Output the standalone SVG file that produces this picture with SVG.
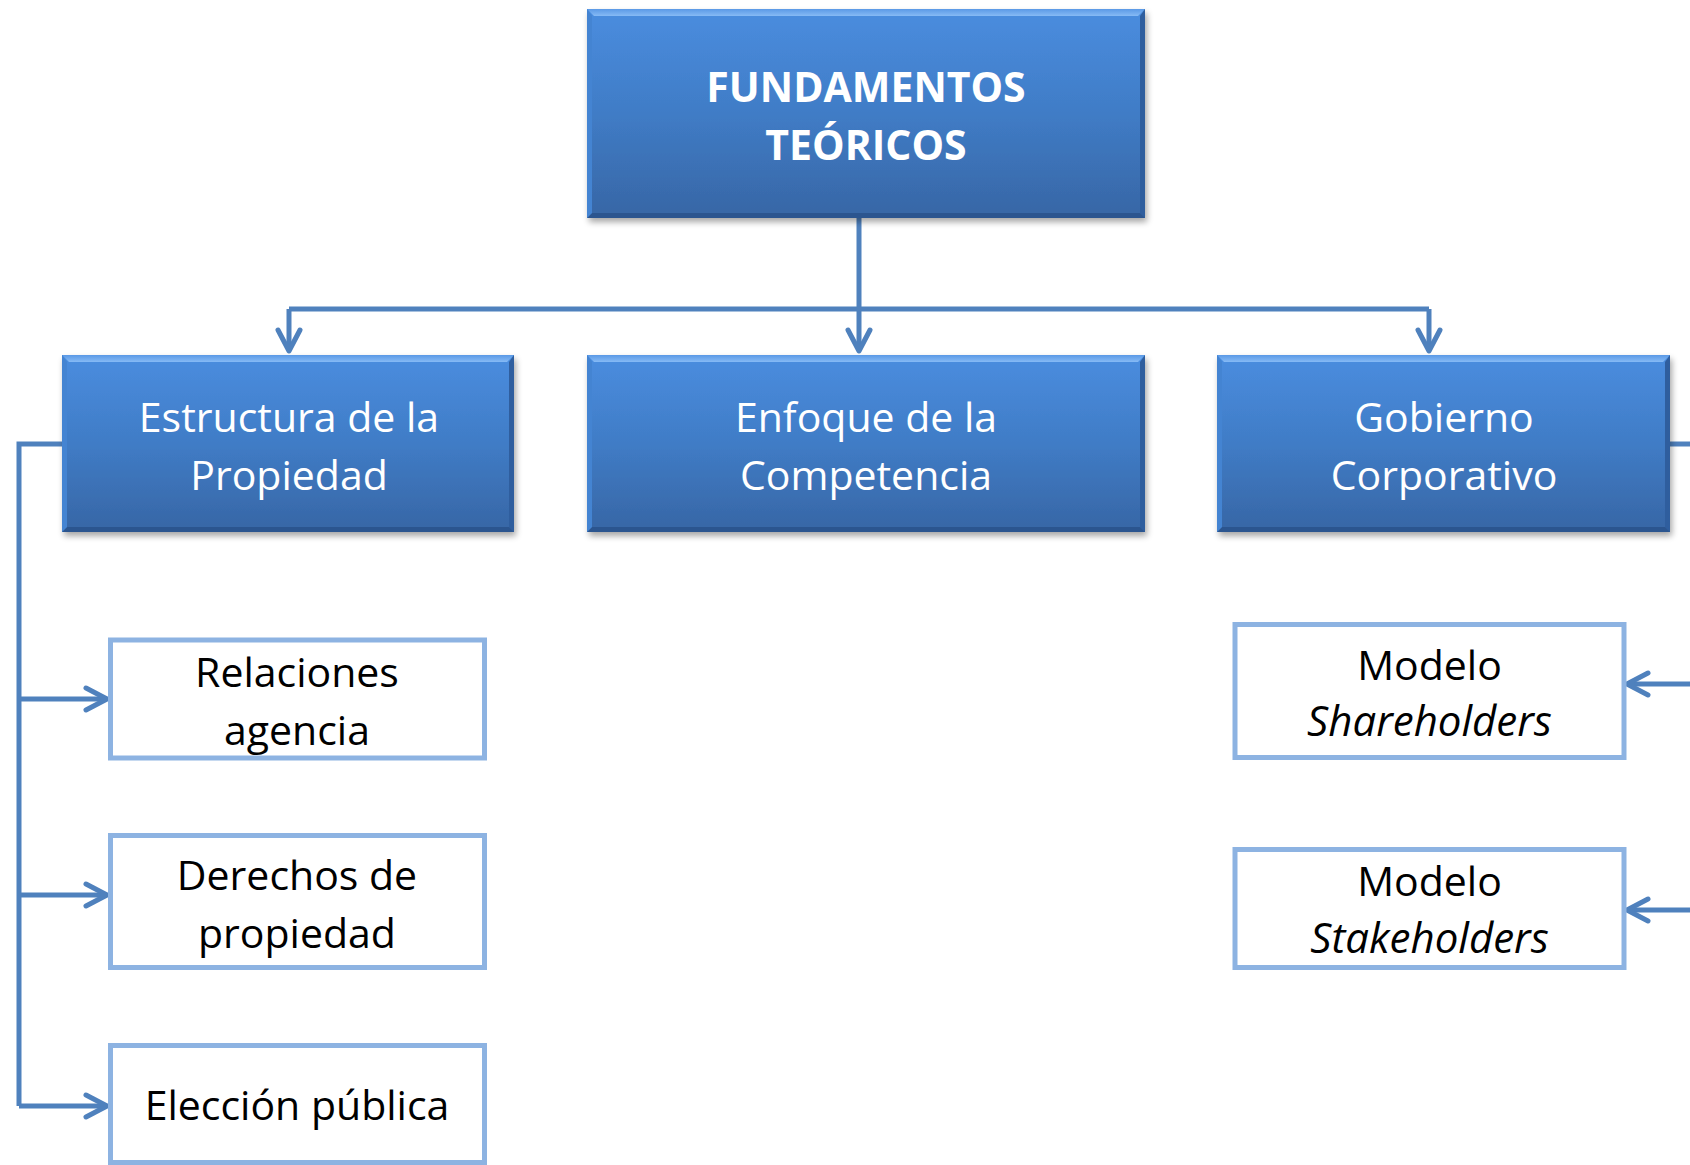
<svg xmlns="http://www.w3.org/2000/svg" width="1690" height="1165" viewBox="0 0 1690 1165">
<style>
.t{font-family:"Open Sans","Liberation Sans",sans-serif;font-size:41px;text-anchor:middle}
.w{fill:#ffffff}
.b{font-weight:bold}
.k{fill:#000000}
.i{font-style:italic;font-size:42px}
.wb{fill:#ffffff;stroke:#8DB3E2;stroke-width:5}
.main{fill:url(#gBlue)}
.bt{fill:url(#gTop)}
.br{fill:#2F5E9E}
.bb{fill:#2B558F}
.bl{fill:#4484D2}
.c{fill:none;stroke:#4F81BD;stroke-width:5;stroke-linejoin:miter}
.ca{marker-end:url(#arr)}
</style>
<defs>
<linearGradient id="gBlue" x1="0" y1="0" x2="0" y2="1">
<stop offset="0" stop-color="#4A8DDF"/>
<stop offset="0.5" stop-color="#407CC6"/>
<stop offset="1" stop-color="#3766A5"/>
</linearGradient>
<linearGradient id="gTop" x1="0" y1="0" x2="0" y2="1">
<stop offset="0" stop-color="#5A99E6"/>
<stop offset="1" stop-color="#86BAF5"/>
</linearGradient>
<filter id="shadow" x="-5%" y="-5%" width="110%" height="120%">
<feGaussianBlur in="SourceAlpha" stdDeviation="3"/>
<feOffset dx="2" dy="4"/>
<feComponentTransfer><feFuncA type="linear" slope="0.35"/></feComponentTransfer>
<feMerge><feMergeNode/><feMergeNode in="SourceGraphic"/></feMerge>
</filter>
<marker id="arr" markerUnits="userSpaceOnUse" markerWidth="40" markerHeight="40" viewBox="-30 -20 40 40" refX="0" refY="0" orient="auto" overflow="visible">
<path d="M-21 -11 L0 0 L-21 11" fill="none" stroke="#4F81BD" stroke-width="5" stroke-linecap="round" stroke-linejoin="round"/>
</marker>
</defs>
<rect width="1690" height="1165" fill="#ffffff"/>

<g id="connectors">
<path class="c ca" d="M859 218 V351"/>
<path class="c" d="M289 309 H1429"/>
<path class="c ca" d="M289 309 V351"/>
<path class="c ca" d="M1429 309 V351"/>
<path class="c" d="M62 444 H19 V1106"/>
<path class="c ca" d="M19 699 H107"/>
<path class="c ca" d="M19 895 H107"/>
<path class="c ca" d="M19 1106 H107"/>
<path class="c" d="M1669 444 H1690"/>
<path class="c ca" d="M1690 684 H1627"/>
<path class="c ca" d="M1690 910 H1627"/>
</g>

<g id="n-fundamentos">
<rect class="main" x="587" y="9" width="558" height="209" filter="url(#shadow)"/>
<path class="bt" d="M587 9 H1145 L1138 16 H594 Z"/>
<path class="br" d="M1145 9 V218 L1140 213 V16 Z"/>
<path class="bb" d="M587 218 H1145 L1140 213 H592 Z"/>
<path class="bl" d="M587 9 V218 L592 213 V16 Z"/>
<text class="t w b" x="866" y="102">FUNDAMENTOS</text>
<text class="t w b" x="866" y="160">TEÓRICOS</text>
</g>

<g id="n-estructura">
<rect class="main" x="62" y="355" width="452" height="177" filter="url(#shadow)"/>
<path class="bt" d="M62 355 H514 L507 362 H69 Z"/>
<path class="br" d="M514 355 V532 L509 527 V362 Z"/>
<path class="bb" d="M62 532 H514 L509 527 H67 Z"/>
<path class="bl" d="M62 355 V532 L67 527 V362 Z"/>
<text class="t w" x="289" y="432">Estructura de la</text>
<text class="t w" x="289" y="490">Propiedad</text>
</g>

<g id="n-enfoque">
<rect class="main" x="587" y="355" width="558" height="177" filter="url(#shadow)"/>
<path class="bt" d="M587 355 H1145 L1138 362 H594 Z"/>
<path class="br" d="M1145 355 V532 L1140 527 V362 Z"/>
<path class="bb" d="M587 532 H1145 L1140 527 H592 Z"/>
<path class="bl" d="M587 355 V532 L592 527 V362 Z"/>
<text class="t w" x="866" y="432">Enfoque de la</text>
<text class="t w" x="866" y="490">Competencia</text>
</g>

<g id="n-gobierno">
<rect class="main" x="1217" y="355" width="453" height="177" filter="url(#shadow)"/>
<path class="bt" d="M1217 355 H1670 L1663 362 H1224 Z"/>
<path class="br" d="M1670 355 V532 L1665 527 V362 Z"/>
<path class="bb" d="M1217 532 H1670 L1665 527 H1222 Z"/>
<path class="bl" d="M1217 355 V532 L1222 527 V362 Z"/>
<text class="t w" x="1444" y="432">Gobierno</text>
<text class="t w" x="1444" y="490">Corporativo</text>
</g>

<g id="n-relaciones">
<rect class="wb" x="110.5" y="640" width="374" height="118"/>
<text class="t k" x="297" y="687">Relaciones</text>
<text class="t k" x="297" y="745">agencia</text>
</g>

<g id="n-derechos">
<rect class="wb" x="110.5" y="835.5" width="374" height="132"/>
<text class="t k" x="297" y="890">Derechos de</text>
<text class="t k" x="297" y="948">propiedad</text>
</g>

<g id="n-eleccion">
<rect class="wb" x="110.5" y="1045.5" width="374" height="117"/>
<text class="t k" x="297" y="1120">Elección pública</text>
</g>

<g id="n-shareholders">
<rect class="wb" x="1235" y="624.5" width="389" height="133"/>
<text class="t k" x="1429.5" y="680">Modelo</text>
<text class="t k i" x="1429.5" y="736">Shareholders</text>
</g>

<g id="n-stakeholders">
<rect class="wb" x="1235" y="849.5" width="389" height="118"/>
<text class="t k" x="1429.5" y="896">Modelo</text>
<text class="t k i" x="1429.5" y="953">Stakeholders</text>
</g>
</svg>
